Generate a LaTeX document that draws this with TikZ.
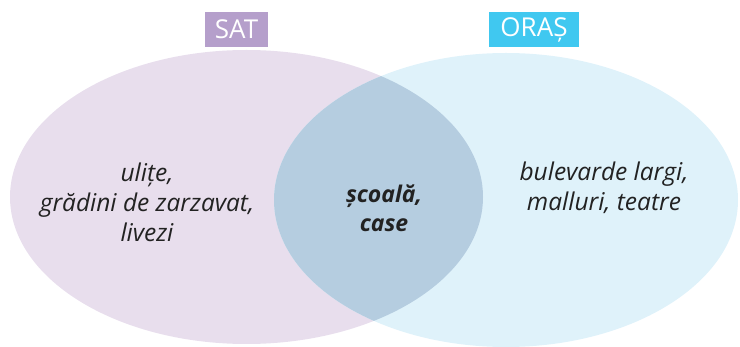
\documentclass[tikz,border=0pt]{standalone}
\usepackage{fontspec}
\setmainfont{Open Sans}
\definecolor{satfill}{HTML}{E8DEED}
\definecolor{orasfill}{HTML}{DFF2FA}
\definecolor{overlapfill}{HTML}{B5CDE0}
\definecolor{sathead}{HTML}{B59FCB}
\definecolor{orashead}{HTML}{40C8F0}
\definecolor{txt}{HTML}{222222}
\tikzset{
  headbox/.style={text=white, inner sep=0pt, minimum height=35pt, font=\fontsize{26}{28}\selectfont},
  itemtext/.style={text=txt, align=center, inner sep=0pt, font=\fontsize{24.5}{30}\selectfont\itshape},
  midtext/.style={text=txt, align=center, inner sep=0pt, font=\fontsize{23}{29}\selectfont\bfseries\itshape}
}
\begin{document}
\begin{tikzpicture}[x=1pt,y=-1pt]
\useasboundingbox (0,0) rectangle (740,347);
\begin{scope}
  \clip (0,0) rectangle (740,347);
  \fill[satfill] (246.5,197) ellipse [x radius=236.5pt, y radius=147pt];
  \fill[orasfill] (506,200) ellipse [x radius=232pt, y radius=147pt];
  \begin{scope}
    \clip (246.5,197) ellipse [x radius=236.5pt, y radius=147pt];
    \fill[overlapfill] (506,200) ellipse [x radius=232pt, y radius=147pt];
  \end{scope}
\end{scope}
\node[headbox, fill=sathead, minimum width=63pt] (sat) at (236.5,29.5) {SAT};
\node[headbox, fill=orashead, minimum width=90pt] (oras) at (534,29.5) {ORAȘ};
\node[itemtext] (left) at (147,202) {ulițe,\\grădini de zarzavat,\\livezi};
\node[midtext] (mid) at (384,208) {școală,\\case};
\node[itemtext] (right) at (604,188) {bulevarde largi,\\malluri, teatre};
\end{tikzpicture}
\end{document}
